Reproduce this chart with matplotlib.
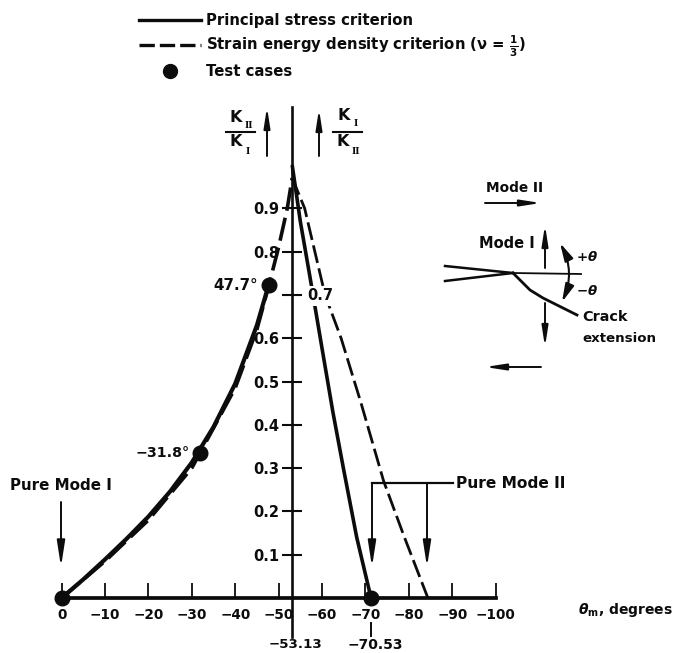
import matplotlib
matplotlib.use("Agg")
import matplotlib.pyplot as plt
from matplotlib.lines import Line2D
from matplotlib.patches import FancyArrowPatch
from matplotlib.transforms import Affine2D

plt.rcParams['font.family'] = ['DejaVu Sans']
plt.rcParams['font.weight'] = 'bold'
plt.rcParams['mathtext.fontset'] = 'dejavusans'
plt.rcParams['mathtext.default'] = 'bf'

# Data
solid_left_theta = [0, -5, -10, -15, -20, -25, -30, -35, -40, -45, -47.7]
solid_left_k = [0, 0.043, 0.089, 0.137, 0.188, 0.246, 0.313, 0.395, 0.495, 0.63, 0.723]
solid_right_theta = [-53.13, -55, -57.2, -60, -62.5, -65, -68, -71.3]
solid_right_k = [1.0, 0.87, 0.743, 0.577, 0.43, 0.296, 0.14, 0.0]
dashed_left_theta = [0, -10, -20, -30, -40, -45, -47.7, -50, -52, -53.13]
dashed_left_k = [0, 0.085, 0.18, 0.30, 0.485, 0.62, 0.72, 0.81, 0.90, 0.97]
dashed_right_theta = [-53.13, -56, -60.7, -64.4, -69, -74.2, -79, -84.4]
dashed_right_k = [0.97, 0.90, 0.70, 0.60, 0.45, 0.27, 0.14, 0.0]
test_theta = [0, -31.8, -47.7, -71.3]
test_k = [0, 0.335, 0.723, 0]
x_ticks = [0, -10, -20, -30, -40, -50, -60, -70, -80, -90, -100]
x_tick_labels = ['0', '−10', '−20', '−30', '−40', '−50', '−60', '−70', '−80', '−90', '−100']
y_ticks = [0.1, 0.2, 0.3, 0.4, 0.5, 0.6, 0.7, 0.8, 0.9]
y_tick_labels = ['0.1', '0.2', '0.3', '0.4', '0.5', '0.6', '', '0.8', '0.9']

W, H = 676, 653
INK = '#0c0c0c'
fig = plt.figure(figsize=(W / 100, H / 100), dpi=100)
ax = fig.add_axes([0, 0, 1, 1], facecolor='none')
PX_X, PX_Y = 4.34, 433.0
X0, Y0 = 61.6, 598.0
ax.set_xlim(X0 / PX_X, (X0 - W) / PX_X)
ax.set_ylim((Y0 - H) / PX_Y, Y0 / PX_Y)

for s in ['top', 'right']:
    ax.spines[s].set_visible(False)
ax.spines['bottom'].set_position(('data', 0))
ax.spines['bottom'].set_bounds(0, -100)
ax.spines['bottom'].set_linewidth(2.7)
ax.spines['left'].set_position(('data', -53.13))
ax.spines['left'].set_bounds(-0.09, 1.134)
ax.spines['left'].set_linewidth(1.9)
ax.spines['bottom'].set_color(INK)
ax.spines['left'].set_color(INK)

ax.set_xticks(x_ticks, x_tick_labels, fontsize=9.8, fontweight='bold', color=INK)
ax.tick_params(axis='x', direction='in', length=11, width=1.3, pad=7, color=INK)
ax.set_yticks(y_ticks, y_tick_labels, fontsize=10.5, fontweight='bold', color=INK)
ax.tick_params(axis='y', direction='inout', length=15, width=1.5, pad=1.5, color=INK)

ax.plot(solid_left_theta, solid_left_k, color=INK, lw=3.0, solid_capstyle='round')
ax.plot(solid_right_theta, solid_right_k, color=INK, lw=2.6, solid_capstyle='butt')
dash = (0, (6.5, 2.0))
ax.plot(dashed_left_theta, dashed_left_k, color=INK, lw=2.6, ls=dash)
ax.plot(dashed_right_theta, dashed_right_k, color=INK, lw=2.0, ls=dash)
ax.plot(test_theta, test_k, ls='none', marker='o', ms=10.5, color=INK, clip_on=False, zorder=5)

handles = [
    Line2D([], [], color=INK, lw=2.4),
    Line2D([], [], color=INK, lw=2.4, ls=(0, (4.6, 1.5))),
    Line2D([], [], color=INK, ls='none', marker='o', ms=10),
]
labels = ['Principal stress criterion',
          r'Strain energy density criterion ($\nu$ = $\frac{1}{3}$)',
          'Test cases']
ax.legend(handles, labels, loc='upper left', bbox_to_anchor=(139 / W, 1 - 13 / H),
          frameon=False, fontsize=10.7, handlelength=4.2, handletextpad=0.3,
          labelspacing=0.36, borderpad=0, borderaxespad=0, labelcolor=INK)

# Pixel-space transform for annotations outside the data scales
px = Affine2D().scale(1 / W, -1 / H).translate(0, 1) + fig.transFigure


def T(x, y, s, ha='left', va='center', fs=10.2, **kw):
    return ax.text(x, y, s, transform=px, ha=ha, va=va, fontsize=fs, color=INK,
                   fontweight='bold', clip_on=False, **kw)


def L(xs, ys, lw=1.6):
    ax.add_line(Line2D(xs, ys, transform=px, color=INK, lw=lw, clip_on=False))


def A(x0, y0, x1, y1, lw=1.4, head='-|>,head_length=1.1,head_width=0.17', rad=None, ms=14):
    st = f'arc3,rad={rad}' if rad is not None else 'arc3'
    ax.add_patch(FancyArrowPatch((x0, y0), (x1, y1), transform=px, arrowstyle=head,
                                 mutation_scale=ms, lw=lw, color=INK,
                                 shrinkA=0, shrinkB=0, connectionstyle=st, clip_on=False))


# Point and tick notes
T(258, 286, '47.7°', ha='right', fs=10.8)
T(190, 453, '−31.8°', ha='right')
T(307, 296, '0.7', fs=10.5, zorder=6,
  bbox=dict(facecolor='white', edgecolor='none', pad=1.5))
T(296, 645, '−53.13', ha='center', fs=9.6)
T(375, 645, '−70.53', ha='center', fs=10)
L([371, 371], [623, 636], lw=1.4)
T(578, 610, r'$\mathit{\theta}_{m}$, degrees', fs=10)

# Pure mode labels and arrows
T(61, 485, 'Pure Mode I', ha='center', fs=10.9)
A(61, 502, 61, 567)
T(456, 484, 'Pure Mode II', fs=11.1)
L([372, 453], [483, 483], lw=1.6)
A(372, 483, 372, 567)
A(427, 483, 427, 567)

# Ratio labels
T(236, 117, 'K', ha='center', fs=11.5)
T(245, 125, 'II', fs=8, family='Liberation Serif')
L([226, 255], [132, 132], lw=1.5)
T(236, 142, 'K', ha='center', fs=11.5)
T(246, 151, 'I', fs=8, family='Liberation Serif')
A(267, 156, 267, 107, ms=11)
A(319, 156, 319, 109, ms=11)
T(344, 115, 'K', ha='center', fs=11.5)
T(354, 123, 'I', fs=8, family='Liberation Serif')
L([333, 362], [132, 132], lw=1.5)
T(343, 142, 'K', ha='center', fs=11.5)
T(352, 151, 'II', fs=8, family='Liberation Serif')

# Mode diagram
T(515, 188, 'Mode II', ha='center', fs=9.8)
A(485, 203, 541, 203, ms=11)
T(535, 244, 'Mode I', ha='right', fs=10.5)
A(545, 268, 545, 225, ms=11)
A(545, 303, 545, 347, ms=11)
A(541, 367, 485, 367, ms=11)
L([445, 513], [266, 273], lw=1.8)
L([445, 513], [281, 273], lw=1.8)
L([513, 581], [273, 274], lw=1.3)
L([513, 530, 543, 577], [273, 290, 298, 315], lw=2.0)
A(560, 243, 562, 302, rad=-0.24, lw=1.5, ms=9, head='<|-|>,head_length=1.2,head_width=0.3')
T(576, 257, r'+$\mathit{\theta}$', fs=9.6)
T(576, 291, r'−$\mathit{\theta}$', fs=9.6)
T(582, 317, 'Crack', fs=10.4)
T(582, 338, 'extension', fs=9.6)

fig.savefig('out.png', dpi=100)
